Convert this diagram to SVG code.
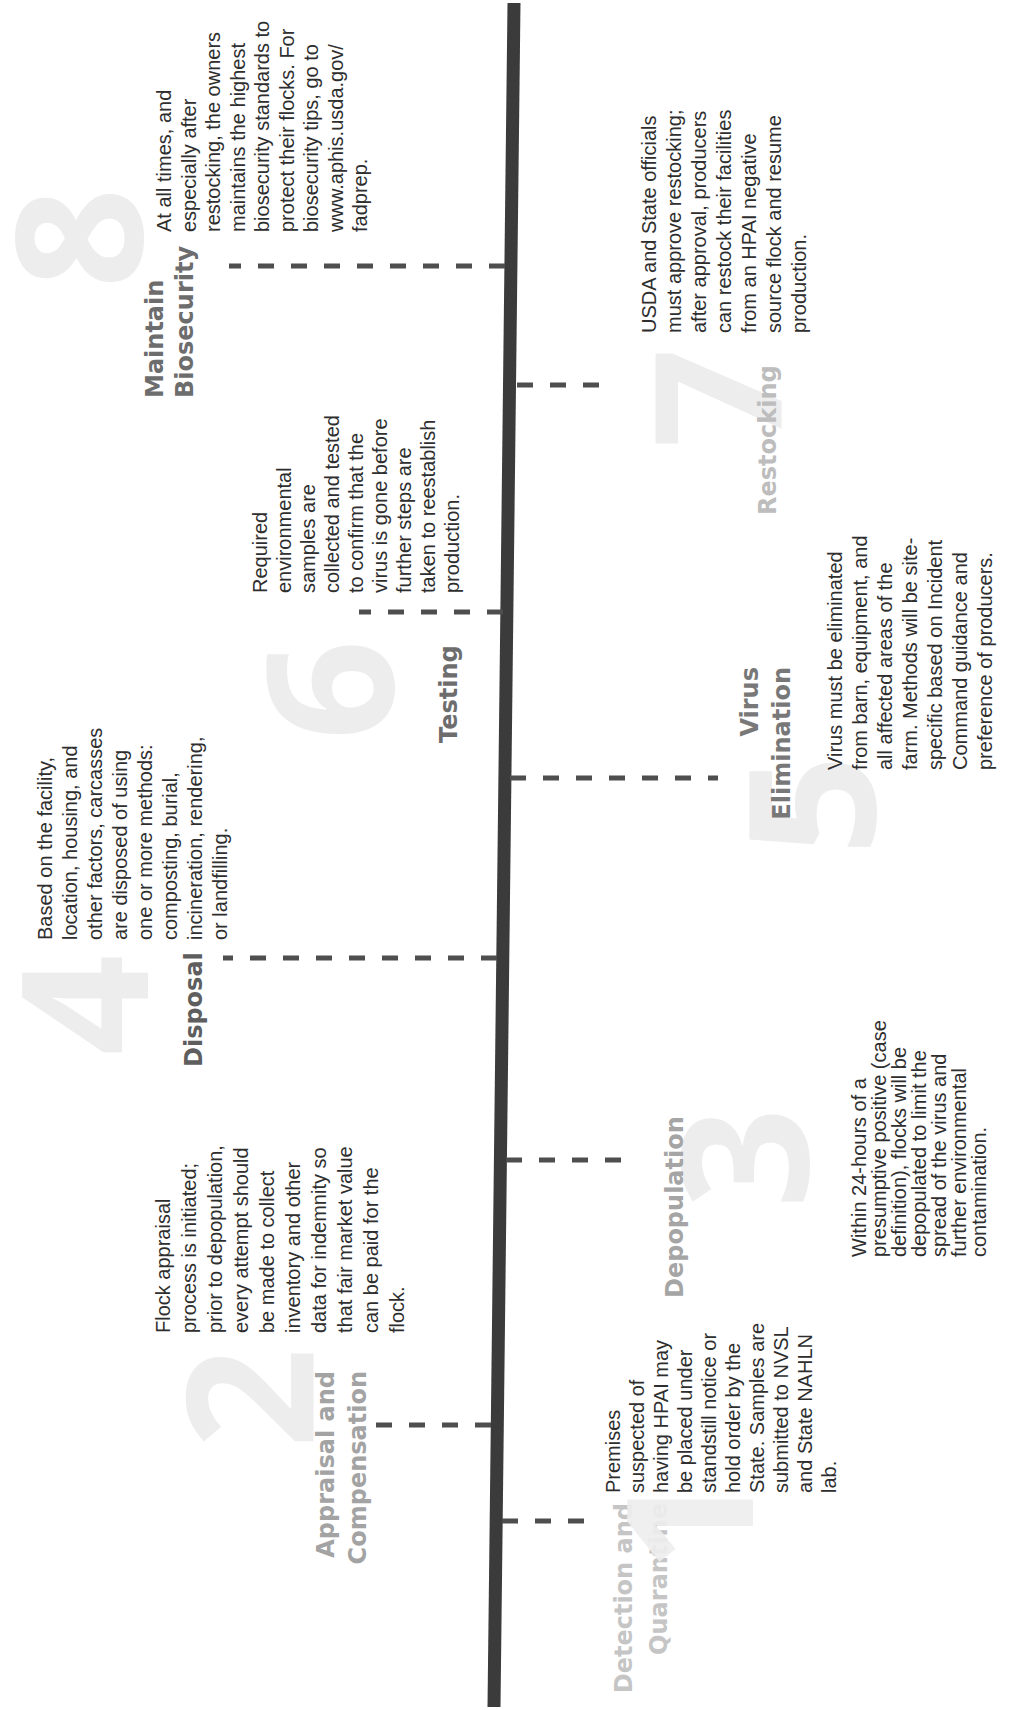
<svg xmlns="http://www.w3.org/2000/svg" width="1013" height="1710" viewBox="0 0 1013 1710">
<style>
.wm{font-family:"Open Sans","DejaVu Sans",sans-serif;font-weight:700;font-size:176px;fill:#ededed;text-anchor:middle}
.lbl{font-family:"DejaVu Sans","Liberation Sans",sans-serif;font-weight:700;font-size:24px}
.body{font-family:"Liberation Sans",Arial,sans-serif;font-size:20px;fill:#2e2e2e}
.dash{stroke:#4e4e4e;stroke-width:5;stroke-dasharray:16 17;fill:none}
</style>
<rect width="1013" height="1710" fill="#fff"/>
<g id="watermarks">
<text class="wm" transform="translate(79,238) rotate(-90)" y="63">8</text>
<text class="wm" transform="translate(718,398) rotate(-90)" y="63">7</text>
<text class="wm" transform="translate(330,690) rotate(-90)" y="63">6</text>
<text class="wm" transform="translate(812,805) rotate(-90)" y="63">5</text>
<text class="wm" transform="translate(85,1005) rotate(-90)" y="63">4</text>
<text class="wm" transform="translate(745,1158) rotate(-90)" y="63">3</text>
<text class="wm" transform="translate(250,1398) rotate(-90)" y="63">2</text>
</g>
<g id="timeline">
<line x1="514" y1="3" x2="494" y2="1707" stroke="#3b3b3b" stroke-width="13"/>
</g>
<g id="connectors">
<path class="dash" d="M505 266H229"/>
<path class="dash" d="M517 385H600"/>
<path class="dash" d="M503 612H359"/>
<path class="dash" d="M510 778H718"/>
<path class="dash" d="M497 958H223"/>
<path class="dash" d="M506 1160H623"/>
<path class="dash" d="M491 1425H375"/>
<path class="dash" d="M502 1521H585"/>
</g>
<g id="step8">
<text class="lbl" fill="#6d6d6d" transform="translate(163,398) rotate(-90)">Maintain</text>
<text class="lbl" fill="#6d6d6d" transform="translate(193,398) rotate(-90)">Biosecurity</text>
<g class="body" font-size="21">
<text transform="translate(171,232) rotate(-90)">At all times, and</text>
<text transform="translate(195.5,232) rotate(-90)">especially after</text>
<text transform="translate(220,232) rotate(-90)">restocking, the owners</text>
<text transform="translate(244.5,232) rotate(-90)">maintains the highest</text>
<text transform="translate(269,232) rotate(-90)">biosecurity standards to</text>
<text transform="translate(293.5,232) rotate(-90)">protect their flocks. For</text>
<text transform="translate(318,232) rotate(-90)">biosecurity tips, go to</text>
<text transform="translate(342.5,232) rotate(-90)">www.aphis.usda.gov/</text>
<text transform="translate(367,232) rotate(-90)">fadprep.</text>
</g>
</g>
<g id="step7">
<text class="lbl" fill="#bdbdbd" transform="translate(776,515) rotate(-90)">Restocking</text>
<g class="body" font-size="21">
<text transform="translate(656,333) rotate(-90)">USDA and State officials</text>
<text transform="translate(681,333) rotate(-90)">must approve restocking;</text>
<text transform="translate(706,333) rotate(-90)">after approval, producers</text>
<text transform="translate(731,333) rotate(-90)">can restock their facilities</text>
<text transform="translate(756,333) rotate(-90)">from an HPAI negative</text>
<text transform="translate(781,333) rotate(-90)">source flock and resume</text>
<text transform="translate(806,333) rotate(-90)">production.</text>
</g>
</g>
<g id="step6">
<text class="lbl" fill="#6d6d6d" transform="translate(457,743) rotate(-90)">Testing</text>
<g class="body" font-size="21">
<text transform="translate(267,593) rotate(-90)">Required</text>
<text transform="translate(291,593) rotate(-90)">environmental</text>
<text transform="translate(315,593) rotate(-90)">samples are</text>
<text transform="translate(339,593) rotate(-90)">collected and tested</text>
<text transform="translate(363,593) rotate(-90)">to confirm that the</text>
<text transform="translate(387,593) rotate(-90)">virus is gone before</text>
<text transform="translate(411,593) rotate(-90)">further steps are</text>
<text transform="translate(435,593) rotate(-90)">taken to reestablish</text>
<text transform="translate(459,593) rotate(-90)">production.</text>
</g>
</g>
<g id="step5">
<text class="lbl" fill="#787878" text-anchor="end" transform="translate(758,667) rotate(-90)">Virus</text>
<text class="lbl" fill="#787878" text-anchor="end" transform="translate(790,667) rotate(-90)">Elimination</text>
<g class="body">
<text transform="translate(842,770) rotate(-90)">Virus must be eliminated</text>
<text transform="translate(867,770) rotate(-90)">from barn, equipment, and</text>
<text transform="translate(892,770) rotate(-90)">all affected areas of the</text>
<text transform="translate(917,770) rotate(-90)">farm. Methods will be site-</text>
<text transform="translate(942,770) rotate(-90)">specific based on Incident</text>
<text transform="translate(967,770) rotate(-90)">Command guidance and</text>
<text transform="translate(992,770) rotate(-90)">preference of producers.</text>
</g>
</g>
<g id="step4">
<text class="lbl" fill="#5e5e5e" transform="translate(202,1067) rotate(-90)">Disposal</text>
<g class="body" font-size="20.5">
<text transform="translate(52,940) rotate(-90)">Based on the facility,</text>
<text transform="translate(77,940) rotate(-90)">location, housing, and</text>
<text transform="translate(102,940) rotate(-90)">other factors, carcasses</text>
<text transform="translate(127,940) rotate(-90)">are disposed of using</text>
<text transform="translate(152,940) rotate(-90)">one or more methods:</text>
<text transform="translate(177,940) rotate(-90)">composting, burial,</text>
<text transform="translate(202,940) rotate(-90)">incineration, rendering,</text>
<text transform="translate(227,940) rotate(-90)">or landfilling.</text>
</g>
</g>
<g id="step3">
<text class="lbl" fill="#a5a5a5" transform="translate(683,1298) rotate(-90)">Depopulation</text>
<g class="body" font-size="18.5">
<text transform="translate(866,1257) rotate(-90)">Within 24-hours of a</text>
<text transform="translate(886,1257) rotate(-90)">presumptive positive (case</text>
<text transform="translate(906,1257) rotate(-90)">definition), flocks will be</text>
<text transform="translate(926,1257) rotate(-90)">depopulated to limit the</text>
<text transform="translate(946,1257) rotate(-90)">spread of the virus and</text>
<text transform="translate(966,1257) rotate(-90)">further environmental</text>
<text transform="translate(986,1257) rotate(-90)">contamination.</text>
</g>
</g>
<g id="step2">
<text class="lbl" fill="#a3a3a3" text-anchor="end" transform="translate(334,1371) rotate(-90)">Appraisal and</text>
<text class="lbl" fill="#a3a3a3" text-anchor="end" transform="translate(366,1371) rotate(-90)">Compensation</text>
<g class="body">
<text transform="translate(170,1333) rotate(-90)">Flock appraisal</text>
<text transform="translate(196,1333) rotate(-90)">process is initiated;</text>
<text transform="translate(222,1333) rotate(-90)">prior to depopulation,</text>
<text transform="translate(248,1333) rotate(-90)">every attempt should</text>
<text transform="translate(274,1333) rotate(-90)">be made to collect</text>
<text transform="translate(300,1333) rotate(-90)">inventory and other</text>
<text transform="translate(326,1333) rotate(-90)">data for indemnity so</text>
<text transform="translate(352,1333) rotate(-90)">that fair market value</text>
<text transform="translate(378,1333) rotate(-90)">can be paid for the</text>
<text transform="translate(404,1333) rotate(-90)">flock.</text>
</g>
</g>
<g id="step1">
<text class="lbl" fill="#c5c5c5" text-anchor="end" transform="translate(632,1503) rotate(-90)">Detection and</text>
<text class="lbl" fill="#c5c5c5" text-anchor="end" transform="translate(667,1503) rotate(-90)">Quarantine</text>
<text class="wm" fill="#f1f1f1" fill-opacity="0.9" transform="translate(690,1522) rotate(-90)" y="63">1</text>
<g class="body" font-size="21">
<text transform="translate(620,1493) rotate(-90)">Premises</text>
<text transform="translate(644,1493) rotate(-90)">suspected of</text>
<text transform="translate(668,1493) rotate(-90)">having HPAI may</text>
<text transform="translate(692,1493) rotate(-90)">be placed under</text>
<text transform="translate(716,1493) rotate(-90)">standstill notice or</text>
<text transform="translate(740,1493) rotate(-90)">hold order by the</text>
<text transform="translate(764,1493) rotate(-90)">State. Samples are</text>
<text transform="translate(788,1493) rotate(-90)">submitted to NVSL</text>
<text transform="translate(812,1493) rotate(-90)">and State NAHLN</text>
<text transform="translate(836,1493) rotate(-90)">lab.</text>
</g>
</g>
</svg>
